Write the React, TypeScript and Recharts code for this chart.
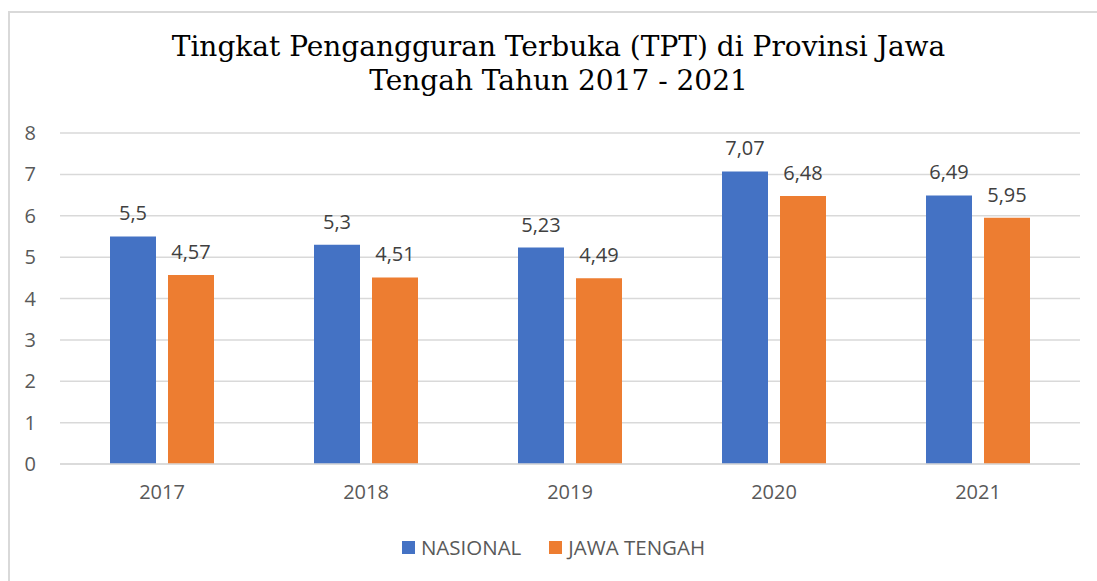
import React from "react";
import {
  BarChart,
  Bar,
  XAxis,
  YAxis,
  CartesianGrid,
  Legend,
  LabelList,
} from "recharts";

const years = ["2017", "2018", "2019", "2020", "2021"];
const nasional = [5.5, 5.3, 5.23, 7.07, 6.49];
const jawaTengah = [4.57, 4.51, 4.49, 6.48, 5.95];
const yTicks = [0, 1, 2, 3, 4, 5, 6, 7, 8];
const seriesNames = ["NASIONAL", "JAWA TENGAH"];

const BLUE = "#4472C4";
const ORANGE = "#ED7D31";
const AXIS_TEXT = "#595959";
const FONT = "'Open Sans', 'Noto Sans', sans-serif";

const data = years.map((year, i) => ({
  year,
  nasional: nasional[i],
  jawaTengah: jawaTengah[i],
}));

const formatComma = (v: any) => String(v).replace(".", ",");

// keep series order (recharts sorts legend items by name otherwise)
const renderLegend = (props: any) => {
  const items = [...(props.payload || [])].sort(
    (a: any, b: any) => seriesNames.indexOf(a.value) - seriesNames.indexOf(b.value)
  );
  return (
    <div
      style={{
        display: "flex",
        justifyContent: "center",
        gap: 28,
        fontFamily: FONT,
        fontSize: 20.5,
        color: AXIS_TEXT,
      }}
    >
      {items.map((entry: any) => (
        <div key={entry.value} style={{ display: "flex", alignItems: "center" }}>
          <span
            style={{
              display: "inline-block",
              width: 13,
              height: 13,
              background: entry.color,
              marginRight: 6,
            }}
          />
          <span>{entry.value}</span>
        </div>
      ))}
    </div>
  );
};

export default function App() {
  return (
    <div
      style={{
        position: "absolute",
        left: 8,
        top: 11,
        width: 1089,
        height: 570,
        borderTop: "2px solid #d9d9d9",
        borderLeft: "2px solid #d9d9d9",
        boxSizing: "border-box",
        background: "#fff",
        overflow: "hidden",
      }}
    >
      <div
        style={{
          position: "absolute",
          left: 0,
          top: 17,
          width: 1097,
          textAlign: "center",
          fontFamily: "'DejaVu Serif', serif",
          fontSize: 28,
          lineHeight: "34px",
          color: "#000",
        }}
      >
        Tingkat Pengangguran Terbuka (TPT) di Provinsi Jawa
        <br />
        Tengah Tahun 2017 - 2021
      </div>
      <div style={{ position: "absolute", left: 0, top: 0 }}>
        <BarChart
          width={1087}
          height={568}
          data={data}
          margin={{ top: 120, right: 17, bottom: 87, left: 0 }}
          barCategoryGap={50}
          barGap={12}
        >
          <CartesianGrid vertical={false} stroke="#d9d9d9" strokeWidth={1.5} />
          <XAxis
            dataKey="year"
            height={30}
            tickLine={false}
            tickSize={0}
            tickMargin={21}
            axisLine={{ stroke: "#d9d9d9", strokeWidth: 1.5 }}
            tick={{ fill: AXIS_TEXT, fontSize: 20, fontFamily: FONT }}
          />
          <YAxis
            width={50}
            domain={[0, 8]}
            ticks={yTicks}
            interval={0}
            axisLine={false}
            tickLine={false}
            tickSize={0}
            tickMargin={24}
            tick={{ fill: AXIS_TEXT, fontSize: 20, fontFamily: FONT }}
          />
          <Legend
            layout="horizontal"
            verticalAlign="middle"
            align="center"
            wrapperStyle={{ top: 520, left: 0, width: 1087 }}
            content={renderLegend}
          />
          <Bar
            dataKey="nasional"
            name="NASIONAL"
            fill={BLUE}
            barSize={46}
            isAnimationActive={false}
          >
            <LabelList
              dataKey="nasional"
              position="top"
              offset={16}
              formatter={formatComma}
              style={{ fill: "#404040", fontSize: 20, fontFamily: FONT }}
            />
          </Bar>
          <Bar
            dataKey="jawaTengah"
            name="JAWA TENGAH"
            fill={ORANGE}
            barSize={46}
            isAnimationActive={false}
          >
            <LabelList
              dataKey="jawaTengah"
              position="top"
              offset={16}
              formatter={formatComma}
              style={{ fill: "#404040", fontSize: 20, fontFamily: FONT }}
            />
          </Bar>
        </BarChart>
      </div>
    </div>
  );
}
